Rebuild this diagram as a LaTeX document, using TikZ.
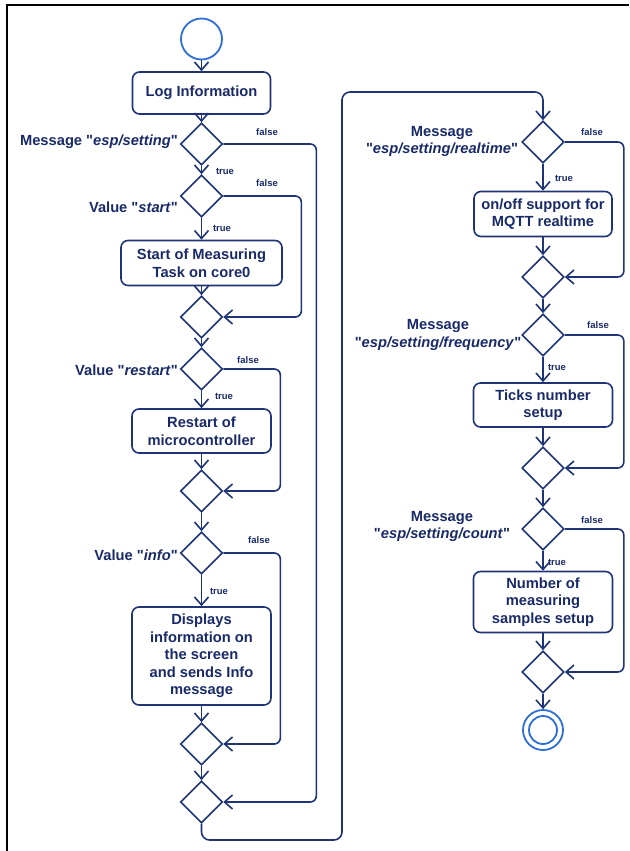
\documentclass[tikz,border=0pt]{standalone}
\usepackage{fontspec}
\setmainfont{Liberation Sans}[Ligatures=TeXOff]
\usetikzlibrary{shapes.geometric,arrows.meta}
\definecolor{navy}{RGB}{30,52,118}
\definecolor{ink}{RGB}{25,42,105}
\definecolor{ringblue}{RGB}{45,110,215}
\newcommand{\boxfont}{\bfseries\fontsize{14.7}{17.5}\selectfont}
\newcommand{\guardfont}{\bfseries\fontsize{9.5}{11}\selectfont}
\begin{document}
\begin{tikzpicture}[x=1pt,y=-1pt,
  flow/.style={draw=navy,line width=1.6pt,line join=round},
  arr/.style={flow,-{Straight Barb[length=8pt,width=14pt]},rounded corners=6pt},
  act/.style={draw=navy,line width=1.6pt,rounded corners=7pt,align=center,
              text=ink,font=\boxfont,inner sep=2pt},
  dec/.style={diamond,aspect=1,draw=navy,line width=1.6pt,
              minimum width=42pt,minimum height=42pt,inner sep=0pt},
  guard/.style={text=ink,font=\guardfont,inner sep=0pt},
  cond/.style={text=ink,font=\boxfont,inner sep=0pt,align=center},
  ring/.style={circle,draw=ringblue,line width=1.8pt,inner sep=0pt},
]
\useasboundingbox (0,0) rectangle (629,851);

% frame
\draw[black,line width=2.5pt] (7,851) -- (7,5) -- (629,5);

% ---------- left column ----------
\node[ring,minimum size=41pt] (start) at (201.5,39) {};
\node[act,minimum width=138pt,minimum height=42pt] (log) at (201.5,93) {Log Information};
\node[dec] (d1) at (201.5,144) {};
\node[dec] (d2) at (201.5,196) {};
\node[act,minimum width=161pt,minimum height=45pt] (b1) at (201.5,263) {Start of Measuring\\Task on core0};
\node[dec] (m1) at (201.5,317) {};
\node[dec] (d3) at (201.5,369) {};
\node[act,minimum width=139pt,minimum height=44pt] (b2) at (201.5,431) {Restart of\\microcontroller};
\node[dec] (m2) at (201.5,491) {};
\node[dec] (d4) at (201.5,553) {};
\node[act,minimum width=139pt,minimum height=98pt] (b3) at (201.5,656) {Displays\\information on\\the screen\\and sends Info\\message};
\node[dec] (m3) at (201.5,744) {};
\node[dec] (m4) at (201.5,802) {};

\node[cond,anchor=east] (l1) at (178,142) {Message "\textit{esp/setting}"};
\node[cond,anchor=east] (l2) at (178,207) {Value "\textit{start}"};
\node[cond,anchor=east] (l3) at (178,370) {Value "\textit{restart}"};
\node[cond,anchor=east] (l4) at (178,555) {Value "\textit{info}"};

\node[guard] (f1) at (267,132) {false};
\node[guard] (t1) at (225,171) {true};
\node[guard] (f2) at (267,183) {false};
\node[guard] (t2) at (222,228) {true};
\node[guard] (f3) at (248,360) {false};
\node[guard] (t3) at (224,396) {true};
\node[guard] (f4) at (259,540) {false};
\node[guard] (t4) at (219,591) {true};

% ---------- right column ----------
\node[dec] (r1) at (543,142) {};
\node[act,minimum width=138pt,minimum height=45pt] (a1) at (543,214) {on/off support for\\MQTT realtime};
\node[dec] (s1) at (543,277) {};
\node[dec] (r2) at (543,335) {};
\node[act,minimum width=139pt,minimum height=44pt] (a2) at (543,405) {Ticks number\\setup};
\node[dec] (s2) at (543,468) {};
\node[dec] (r3) at (543,529) {};
\node[act,minimum width=139pt,minimum height=61pt] (a3) at (543,602) {Number of\\measuring\\samples setup};
\node[dec] (s3) at (543,672) {};
\node[ring,minimum size=40pt] (stop) at (543,730) {};
\node[ring,minimum size=28pt] (stopin) at (stop) {};

\node[cond] (k1) at (442,141.5) {Message\\"\textit{esp/setting/realtime}"};
\node[cond] (k2) at (438,335) {Message\\"\textit{esp/setting/frequency}"};
\node[cond] (k3) at (442,526.5) {Message\\"\textit{esp/setting/count}"};

\node[guard] (rf1) at (592,132) {false};
\node[guard] (rt1) at (564,178) {true};
\node[guard] (rf2) at (598,325) {false};
\node[guard] (rt2) at (557,367) {true};
\node[guard] (rf3) at (592,520) {false};
\node[guard] (rt3) at (557,562) {true};

% ---------- connectors, left ----------
\draw[arr] (start) -- (log);
\draw[arr] (log) -- (d1);
\draw[arr] (d1) -- (d2);
\draw[arr] (d2) -- (b1);
\draw[arr] (b1) -- (m1);
\draw[arr] (d2.east) -- ++(78,0) |- (m1.east);
\draw[arr] (m1) -- (d3);
\draw[arr] (d3) -- (b2);
\draw[arr] (b2) -- (m2);
\draw[arr] (d3.east) -- ++(57,0) |- (m2.east);
\draw[arr] (m2) -- (d4);
\draw[arr] (d4) -- (b3);
\draw[arr] (b3) -- (m3);
\draw[arr] (d4.east) -- ++(57,0) |- (m3.east);
\draw[arr] (m3) -- (m4);
\draw[arr] (d1.east) -- ++(93,0) |- (m4.east);

% ---------- link between columns ----------
\coordinate (loopbr) at (342,840);
\coordinate (looptl) at (342,92);
\draw[arr,rounded corners=8pt] (m4.south) |- (loopbr) -- (looptl) -| (r1.north);

% ---------- connectors, right ----------
\draw[arr] (r1) -- (a1);
\draw[arr] (a1) -- (s1);
\draw[arr] (r1.east) -- ++(59,0) |- (s1.east);
\draw[arr] (s1) -- (r2);
\draw[arr] (r2) -- (a2);
\draw[arr] (a2) -- (s2);
\draw[arr] (r2.east) -- ++(59,0) |- (s2.east);
\draw[arr] (s2) -- (r3);
\draw[arr] (r3) -- (a3);
\draw[arr] (a3) -- (s3);
\draw[arr] (r3.east) -- ++(59,0) |- (s3.east);
\draw[arr] (s3) -- (stop);
\end{tikzpicture}
\end{document}
